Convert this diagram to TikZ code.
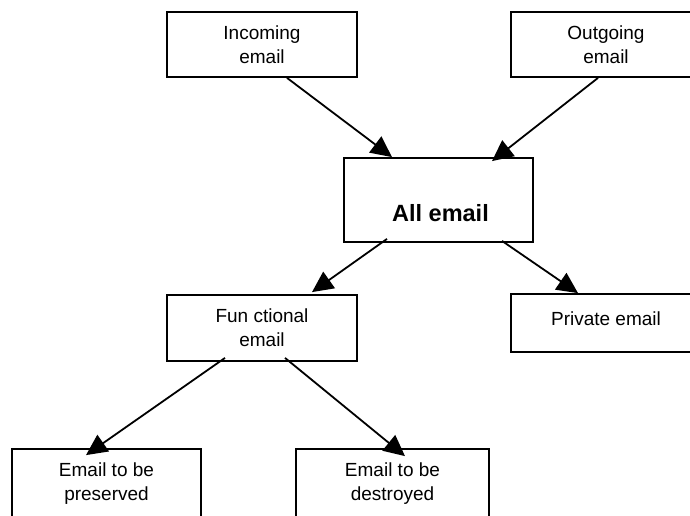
\documentclass[tikz,border=0pt]{standalone}
\usepackage{fontspec}
\setmainfont{Liberation Sans}
\usetikzlibrary{arrows.meta}

\tikzset{
	mailbox/.style={draw, line width=1.8pt, minimum width=190pt, minimum height=65pt, inner sep=0pt, align=center, font=\fontsize{19}{24}\selectfont},
	flow/.style={line width=1.8pt, -{Triangle[length=21pt, width=20pt]}}
}

\begin{document}
\begin{tikzpicture}[x=1pt, y=-1pt]
		\useasboundingbox (0,0) rectangle (690,515);
		
		% Sources
		\node[mailbox] (inc) at (262,44.5) {Incoming\\email};
		\node[mailbox] (out) at (606,44.5) {Outgoing\\email};
		
		% All email
		\node[mailbox, minimum width=189pt, minimum height=84pt, label={[xshift=2pt, yshift=-13pt, font=\fontsize{23.5}{28}\selectfont\bfseries]center:All email}] (all) at (438.5,200) {};
		
		% Split
		\node[mailbox, minimum height=66pt] (fun) at (262,328) {Fun ctional\\email};
		\node[mailbox, minimum height=58pt, label={[yshift=4.5pt, font=\fontsize{19}{24}\selectfont]center:Private email}] (priv) at (606,323) {};
		
		% Retention
		\node[mailbox, minimum width=189pt, minimum height=70pt] (pres) at (106.5,484) {Email to be\\preserved};
		\node[mailbox, minimum width=193pt, minimum height=70pt] (des) at (392.5,484) {Email to be\\destroyed};
		
		% Arrows
		\draw[flow] ([xshift=25pt]inc.south) -- ([xshift=-46.5pt]all.north);
		\draw[flow] ([xshift=-8pt]out.south) -- ([xshift=53.5pt, yshift=-4pt]all.north);
		\draw[flow] ([xshift=-51.5pt, yshift=4pt]all.south) -- ([xshift=50pt, yshift=2pt]fun.north);
		\draw[flow] ([xshift=63.5pt, yshift=2pt]all.south) -- ([xshift=-28pt]priv.north);
		\draw[flow] ([xshift=-37pt, yshift=4pt]fun.south) -- ([xshift=-20.5pt, yshift=-7pt]pres.north);
		\draw[flow] ([xshift=23pt, yshift=4pt]fun.south) -- ([xshift=12.5pt, yshift=-8pt]des.north);
	\end{tikzpicture}
\end{document}
